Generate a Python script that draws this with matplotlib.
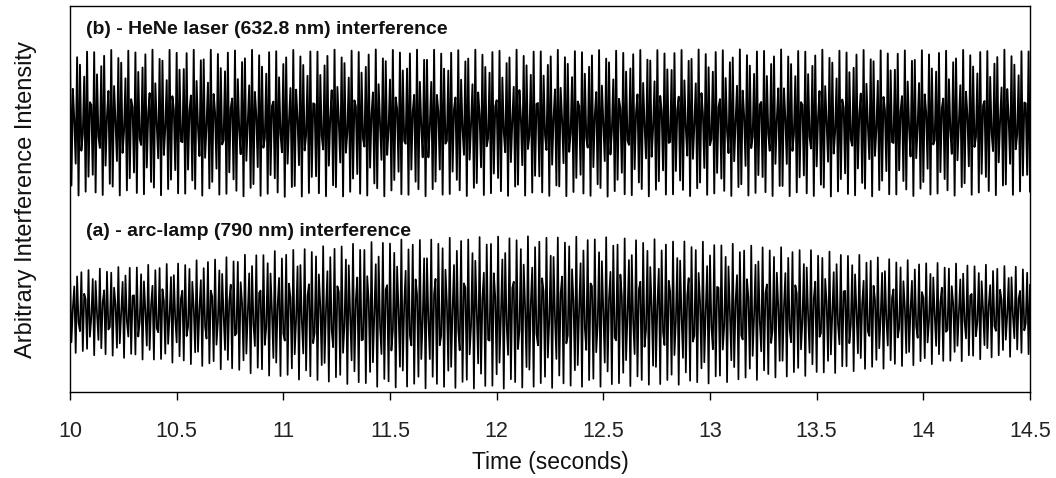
import numpy as np
import matplotlib.pyplot as plt

plt.rcParams['font.family'] = ['Liberation Sans', 'DejaVu Sans']

# envelope of each fringe trace (normalised intensity, 0 = bottom, 1 = top of axes)
t_knots = [10.0, 10.5, 11.0, 11.5, 12.0, 12.5, 13.0, 13.5, 14.0, 14.5]
hene_top = [0.885, 0.888, 0.886, 0.888, 0.887, 0.886, 0.888, 0.887, 0.886, 0.887]
hene_bot = [0.508, 0.510, 0.505, 0.507, 0.508, 0.506, 0.508, 0.506, 0.508, 0.510]
arc_top = [0.315, 0.335, 0.368, 0.394, 0.404, 0.402, 0.389, 0.368, 0.337, 0.325]
arc_bot = [0.101, 0.075, 0.036, 0.010, 0.008, 0.013, 0.021, 0.044, 0.070, 0.096]

sample_hz = 150.0       # detector sampling rate
hene_fringe_hz = 62.1   # apparent (aliased) fringe rate, 632.8 nm laser
arc_fringe_hz = 57.3    # apparent (aliased) fringe rate, 790 nm arc lamp

t = np.arange(10.0, 14.5 + 1e-9, 1.0 / sample_hz)


def fringes(top, bot, f):
    hi = np.interp(t, t_knots, top)
    lo = np.interp(t, t_knots, bot)
    return lo + (hi - lo) * 0.5 * (1 + np.cos(2 * np.pi * f * t))


hene = fringes(hene_top, hene_bot, hene_fringe_hz)
arc = fringes(arc_top, arc_bot, arc_fringe_hz)

fig = plt.figure(figsize=(10.56, 4.78), dpi=100)
ax = fig.add_axes([70 / 1056, 86 / 478, 960 / 1056, 386 / 478])

ax.plot(t, hene, color='black', lw=1.35)
ax.plot(t, arc, color='black', lw=1.25)

ax.set_xlim(10, 14.5)
ax.set_ylim(0, 1)
ax.set_xticks([10, 10.5, 11, 11.5, 12, 12.5, 13, 13.5, 14, 14.5])
ax.set_xticklabels(['10', '10.5', '11', '11.5', '12', '12.5', '13', '13.5', '14', '14.5'])
ax.set_yticks([])
ax.tick_params(axis='x', direction='out', length=6, width=1.0, labelsize=15.5,
               pad=15, labelcolor='#222222')
for s in ax.spines.values():
    s.set_linewidth(1.0)

ax.text(0.017, 0.94, '(b) - HeNe laser (632.8 nm) interference', transform=ax.transAxes,
        fontsize=14, fontweight='bold', va='center', color='#111111')
ax.text(0.017, 0.415, '(a) - arc-lamp (790 nm) interference', transform=ax.transAxes,
        fontsize=14, fontweight='bold', va='center', color='#111111')

ax.set_xlabel('Time (seconds)', fontsize=16.5, labelpad=6, color='#111111')
ax.set_ylabel('Arbitrary Interference Intensity', fontsize=17, labelpad=24, color='#111111')

fig.savefig('out.png', dpi=100)
